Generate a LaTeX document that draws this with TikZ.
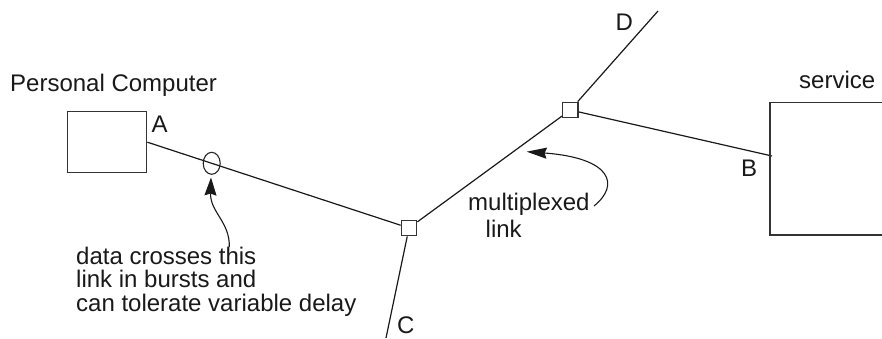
\documentclass[tikz,border=0pt]{standalone}
\usepackage{fontspec}
\setmainfont{Liberation Sans}
\usetikzlibrary{arrows.meta,shapes.geometric}
\tikzset{
  x=1pt,y=-1pt,
  wire/.style={draw=black!90,line width=1.2pt},
  boxnode/.style={draw=black!80,line width=1.3pt,fill=white,rectangle,inner sep=0pt},
  sw/.style={boxnode,minimum size=15.5pt},
  lbl/.style={inner sep=0pt,anchor=base west,text=black!90,font=\fontsize{24}{28}\selectfont},
  callout/.style={line width=1.1pt,draw=black!90,-{Stealth[length=18pt,width=12pt,inset=2pt]}},
  calloutlong/.style={line width=1.1pt,draw=black!90,-{Stealth[length=20pt,width=11pt,inset=2pt]}}
}
\begin{document}
\begin{tikzpicture}
\useasboundingbox (0,0) rectangle (882,339);
% end points
\coordinate (dend) at (658,11);
\coordinate (cend) at (386,338);
\coordinate (bend) at (772,156);
\coordinate (svcTL) at (882,102.5);
\coordinate (svcL1) at (770,102.5);
\coordinate (svcL2) at (770,235);
\coordinate (svcBR) at (882,235);
\coordinate (brst) at (229.3,247);
\coordinate (brtip) at (211,177.5);
\coordinate (mplx) at (594,206);
\coordinate (mptip) at (526.7,151.7);
% nodes
\node[boxnode,minimum width=79.5pt,minimum height=61pt] (pc) at (107,142.2) {};
\node[sw] (s1) at (409,228) {};
\node[sw] (s2) at (570.3,110) {};
% wires
\draw[wire] (pc.east) -- (s1);
\draw[wire] (s1) -- (s2);
\draw[wire] (s2) -- (dend);
\draw[wire] (s2) -- (bend);
\draw[wire] (s1) -- (cend);
\draw[boxnode,fill=none] (svcTL) -- (svcL1) -- (svcL2) -- (svcBR);
\node[draw=black!85,line width=1.1pt,ellipse,minimum width=17pt,minimum height=22pt,inner sep=0pt] (burst) at (211.7,163.3) {};
% callouts
\draw[callout] (brst) .. controls (230,222) and (210,212) .. (brtip);
\draw[calloutlong] (mplx) .. controls (620,185) and (612,158) .. (mptip);
% labels
\node[lbl] (t1) at (10,92) {Personal Computer};
\node[lbl] (t2) at (151.5,132.5) {A};
\node[lbl] (t3) at (799,88.5) {service};
\node[lbl] (t4) at (741,176) {B};
\node[lbl] (t5) at (615.5,31) {D};
\node[lbl] (t6) at (397,333) {C};
\node[lbl] (t7) at (468,210) {multiplexed};
\node[lbl] (t8) at (485.5,237.5) {link};
\node[lbl] (t9) at (76,264) {data crosses this};
\node[lbl] (t10) at (76,287.5) {link in bursts and};
\node[lbl] (t11) at (76,311) {can tolerate variable delay};
\end{tikzpicture}
\end{document}
